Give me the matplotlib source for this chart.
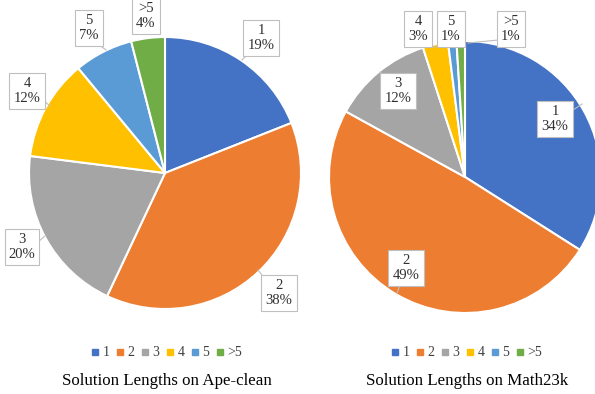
import matplotlib
matplotlib.use("Agg")
import matplotlib.pyplot as plt
from matplotlib.lines import Line2D

categories = ["1", "2", "3", "4", "5", ">5"]
ape_values = [19, 38, 20, 12, 7, 4]
math_values = [34, 49, 12, 3, 1, 1]
titles = ["Solution Lengths on Ape-clean", "Solution Lengths on Math23k"]
colors = ["#4472C4", "#ED7D31", "#A5A5A5", "#FFC000", "#5B9BD5", "#70AD47"]

W, H = 595, 394
plt.rcParams['font.family'] = ['Liberation Serif', 'DejaVu Serif']

fig = plt.figure(figsize=(W / 100, H / 100), dpi=100)
ax = fig.add_axes([0, 0, 1, 1])

def Y(py):
    return H - py

# pie geometry (pixels)
pies = [
    dict(values=ape_values, cx=165, cy=173, r=136, title_x=167,
         boxes=[(261, 38), (279, 293), (22, 247), (27, 91), (89, 28), (146, 16)],
         leaders=[((248, 54), (242, 60)), ((265, 279), (258, 270)), ((38, 242), (46, 235)),
                  ((43, 100), (50, 106)), ((98, 44), (106, 50)), None]),
    dict(values=math_values, cx=465, cy=177, r=136, title_x=467,
         boxes=[(555, 119), (406, 268), (398, 91), (418, 29), (451, 29), (511, 29)],
         leaders=[((573, 110), (582, 104)), ((400, 285), (397, 293)), ((384, 76), (380, 72)),
                  ((429, 45), (435, 47)), None, ((498, 40), (468, 43))]),
]

for i, p in enumerate(pies):
    ax.pie(p["values"], colors=colors, startangle=90, counterclock=False,
           center=(p["cx"], Y(p["cy"])), radius=p["r"],
           wedgeprops=dict(edgecolor="white", linewidth=1.5), frame=True)
    for cat, val, (bx, by), ld in zip(categories, p["values"], p["boxes"], p["leaders"]):
        if ld is not None:
            (x0, y0), (x1, y1) = ld
            ax.plot([x0, x1], [Y(y0), Y(y1)], color="#BFBFBF", lw=0.8, zorder=4)
        ax.text(bx, Y(by), f"{cat}\n{val}%", ha="center", va="center", fontsize=10.5,
                linespacing=1.2, color="#303030", zorder=5,
                bbox=dict(boxstyle="square,pad=0.28", fc="white", ec="#BFBFBF", lw=0.8))
    ax.text(p["title_x"], Y(381), titles[i], ha="center", va="center",
            fontsize=12.2, color="black")
    handles = [Line2D([], [], marker="s", ls="none", color=c, markersize=4) for c in colors]
    fig.legend(handles, categories, loc="center",
               bbox_to_anchor=(p["title_x"] / W, 1 - 353 / H), ncol=6, frameon=False,
               fontsize=10, handlelength=0.5, handletextpad=0.25, columnspacing=0.55,
               labelcolor="#404040")

ax.set_xlim(0, W)
ax.set_ylim(0, H)
ax.set_aspect('equal')
ax.axis('off')
fig.savefig("out.png", dpi=100)
